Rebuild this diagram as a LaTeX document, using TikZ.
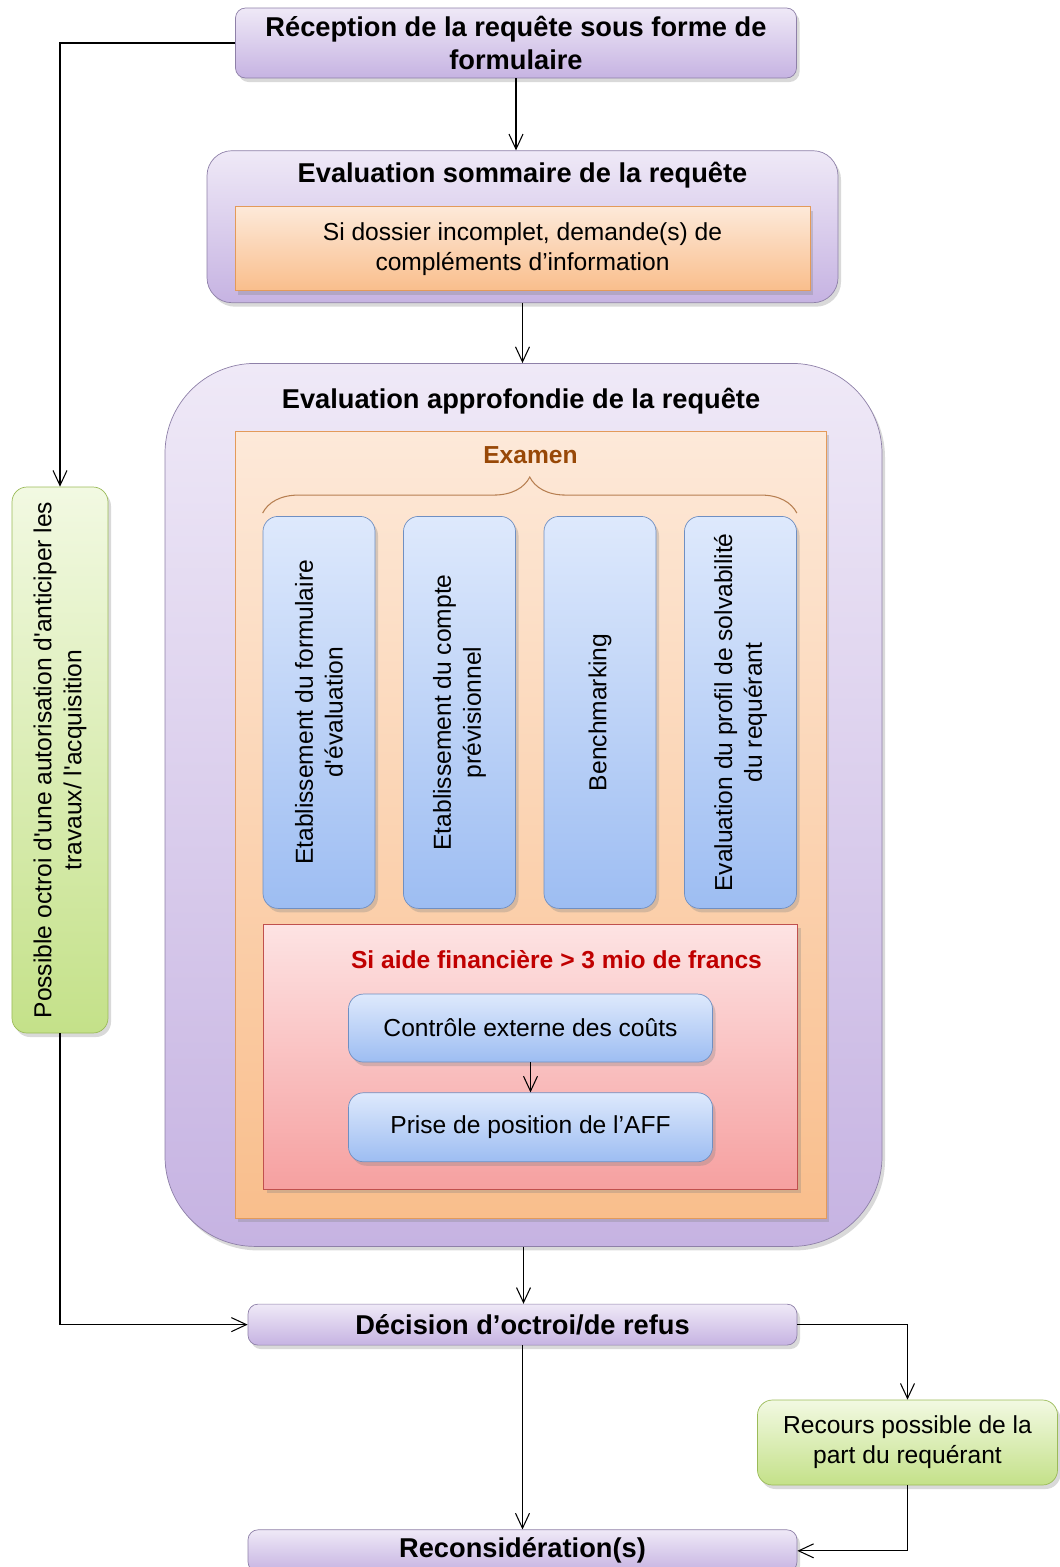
\documentclass[tikz,border=0pt]{standalone}
\usepackage{fontspec}
\setmainfont{Liberation Sans}
\usepackage{tikz}
\usetikzlibrary{positioning,calc,shadows,arrows.meta,decorations.pathreplacing}

\definecolor{violetclair}{HTML}{EFE9F7}
\definecolor{violetfonce}{HTML}{C6B3E2}
\definecolor{violetbord}{HTML}{8E80A8}
\definecolor{orangeclair}{HTML}{FDE9D9}
\definecolor{orangefonce}{HTML}{F9BE8C}
\definecolor{orangebord}{HTML}{E39A5A}
\definecolor{bleuclair}{HTML}{DEE9FC}
\definecolor{bleufonce}{HTML}{9DBDF2}
\definecolor{bleubord}{HTML}{6F8FC2}
\definecolor{rougeclair}{HTML}{FDE3E3}
\definecolor{rougefonce}{HTML}{F6A0A0}
\definecolor{rougebord}{HTML}{C0504D}
\definecolor{vertclair}{HTML}{F2F9E2}
\definecolor{vertfonce}{HTML}{C4E189}
\definecolor{vertbord}{HTML}{9BBB59}
\definecolor{brun}{HTML}{984807}
\definecolor{rougetitre}{HTML}{C00000}

\newcommand{\txttitre}{\fontsize{15.5}{18.5}\selectfont\bfseries}
\newcommand{\txtcourant}{\fontsize{14}{17}\selectfont}

\tikzstyle{ombre} = [drop shadow={shadow xshift=0.6mm, shadow yshift=-0.8mm, opacity=0.3}]
\tikzstyle{etape} = [rectangle, draw=violetbord, top color=violetclair, bottom color=violetfonce, rounded corners=0.2cm, align=center, font=\txttitre, ombre]
\tikzstyle{cadre} = [rectangle, draw=violetbord, top color=violetclair, bottom color=violetfonce, ombre]
\tikzstyle{bloc} = [rectangle, draw=orangebord, top color=orangeclair, bottom color=orangefonce, align=center, font=\txtcourant, ombre]
\tikzstyle{tache} = [rectangle, draw=bleubord, top color=bleuclair, bottom color=bleufonce, rounded corners=0.3cm, align=center, font=\txtcourant, ombre]
\tikzstyle{alerte} = [rectangle, draw=rougebord, top color=rougeclair, bottom color=rougefonce, ombre]
\tikzstyle{possibilite} = [rectangle, draw=vertbord, top color=vertclair, bottom color=vertfonce, rounded corners=0.3cm, align=center, font=\txtcourant, ombre]
\tikzstyle{titre} = [font=\txttitre, align=center]
\tikzstyle{connector} = [line width=0.6pt, -{Straight Barb[length=3mm,width=2.8mm]}]

\begin{document}
\begin{tikzpicture}
        \useasboundingbox (0,0) rectangle (21.2,-31.34);
        \node (rec) [etape, minimum width=11.22cm, minimum height=1.4cm] at (10.32,-0.86) {Réception de la requête sous forme de\\formulaire};
        \node (somm) [cadre, rounded corners=0.5cm, minimum width=12.62cm, minimum height=3.04cm, below=1.44cm of rec, xshift=0.13cm] {};
        \node (sommtitre) [titre] at ($(somm.north)+(0,-0.5)$) {Evaluation sommaire de la requête};
        \node (complements) [bloc, minimum width=11.5cm, minimum height=1.68cm] at ($(somm.center)+(0,-0.44)$) {Si dossier incomplet, demande(s) de\\compléments d’information};
        \node (appr) [cadre, rounded corners=1.8cm, minimum width=14.34cm, minimum height=17.66cm, below=1.2cm of somm, xshift=0.02cm] {};
        \node (apprtitre) [titre] at ($(appr.north)+(-0.05,-0.76)$) {Evaluation approfondie de la requête};
        \node (examen) [bloc, minimum width=11.82cm, minimum height=15.74cm] at ($(appr.center)+(0.14,-0.4)$) {};
        \node (examentitre) [titre, text=brun, font=\txtcourant\bfseries] at ($(examen.north)+(0,-0.48)$) {Examen};
        \node (t1) [tache, rotate=90, minimum width=7.84cm, minimum height=2.24cm] at ($(examen.center)+(-4.23,2.25)$) {Etablissement du formulaire\\d\textquotesingle évaluation};
        \node (t2) [tache, rotate=90, minimum width=7.84cm, minimum height=2.24cm] at ($(t1.center)+(2.81,0)$) {Etablissement du compte\\prévisionnel};
        \node (t3) [tache, rotate=90, minimum width=7.84cm, minimum height=2.24cm] at ($(t2.center)+(2.81,0)$) {Benchmarking};
        \node (t4) [tache, rotate=90, minimum width=7.84cm, minimum height=2.24cm] at ($(t3.center)+(2.81,0)$) {Evaluation du profil de solvabilité\\du requérant};
        \draw [decorate, decoration={brace, amplitude=0.72cm}, draw=brun!70, line width=0.6pt] ($(t1.north east)+(0,0.06)$) -- ($(t4.south east)+(0,0.06)$);
        \node (seuil) [alerte, minimum width=10.68cm, minimum height=5.3cm] at ($(examen.center)+(0,-4.64)$) {};
        \node (seuiltitre) [titre, text=rougetitre, font=\txtcourant\bfseries] at ($(seuil.north)+(0.52,-0.72)$) {Si aide financière > 3 mio de francs};
        \node (controle) [tache, minimum width=7.28cm, minimum height=1.36cm] at ($(seuil.north)+(0,-2.08)$) {Contrôle externe des coûts};
        \node (prise) [tache, minimum width=7.28cm, minimum height=1.38cm, below=0.6cm of controle] {Prise de position de l’AFF};
        \node (dec) [etape, minimum width=10.98cm, minimum height=0.82cm, below=1.14cm of appr, xshift=-0.02cm] {Décision d’octroi/de refus};
        \node (recons) [etape, minimum width=10.98cm, minimum height=0.84cm, below=3.68cm of dec] {Reconsidération(s)};
        \node (recours) [possibilite, minimum width=6.0cm, minimum height=1.7cm] at (18.15,-28.85) {Recours possible de la\\part du requérant};
        \node (octroi) [possibilite, rotate=90, minimum width=10.92cm, minimum height=1.92cm] at (1.2,-15.2) {Possible octroi d\textquotesingle une autorisation d\textquotesingle anticiper les\\travaux/ l\textquotesingle acquisition};
        \draw [connector] (rec.south) -- (rec.south |- somm.north);
        \draw [connector] (somm.south) -- (somm.south |- appr.north);
        \draw [connector] (controle.south) -- (prise.north);
        \draw [connector] (appr.south) -- (appr.south |- dec.north);
        \draw [connector] (dec.south) -- (recons.north);
        \draw [connector] (dec.east) -| (recours.north);
        \draw [connector] (recours.south) |- (recons.east);
        \draw [connector] (rec.west) -| (octroi.east);
        \draw [connector] (octroi.west) |- (dec.west);
    \end{tikzpicture}
\end{document}
